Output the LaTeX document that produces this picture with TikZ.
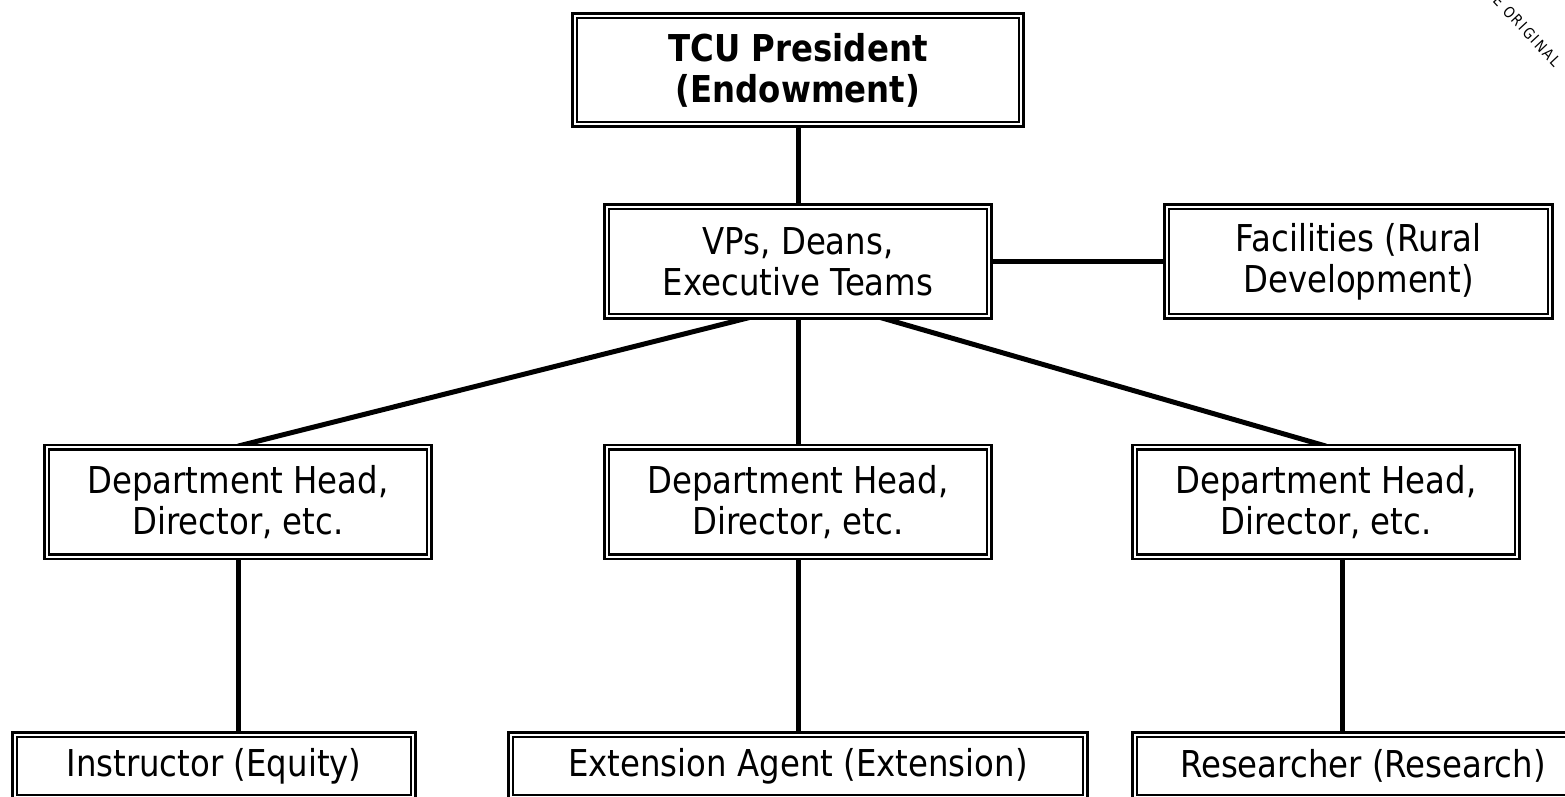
\documentclass[tikz,border=0pt]{standalone}
\usepackage{fontspec}
\setmainfont{DejaVu Sans}[FakeStretch=0.875]
\usetikzlibrary{backgrounds}
\begin{document}
\begin{tikzpicture}[x=0.5pt, y=-0.5pt,
  box/.style={draw=black, line width=1.3pt, double=white, double distance=1pt,
    fill=white, inner sep=0pt, align=center,
    font=\fontsize{18.5}{20.5}\selectfont},
  tall/.style={box, minimum width=191.4pt, minimum height=54.6pt},
  low/.style={box, minimum height=31.4pt},
  link/.style={line width=2.5pt},
  stamptext/.style={font=\fontsize{7.5}{8}\selectfont\addfontfeature{LetterSpace=12}, inner sep=0pt}]
\useasboundingbox (0,0) rectangle (1565,797);
\clip (0,0) rectangle (1565,797);

% top of the chart
\node[box, minimum width=223.4pt, minimum height=54.4pt] (pres) at (798,70)
  {\bfseries TCU President\\\bfseries (Endowment)};
\node[tall] (vps) at (798,261.5) {VPs, Deans,\\Executive Teams};
\node[tall, minimum width=191.9pt] (fac) at (1358.5,261.5) {Facilities (Rural\\Development)};

% department level
\node[tall] (d1) at (238,502) {Department Head,\\Director, etc.};
\node[tall] (d2) at (798,502) {Department Head,\\Director, etc.};
\node[tall] (d3) at (1326,502) {Department Head,\\Director, etc.};

% staff level
\node[low, minimum width=199.4pt] (instr) at (214,766) {Instructor (Equity)};
\node[low, minimum width=287.4pt] (ext) at (798,766) {Extension Agent (Extension)};
\node[low, minimum width=228.4pt] (res) at (1363,766) {Researcher (Research)};

% stamp in the corner
\node[stamptext, rotate=-47] (stamp) at (1527,31) {E ORIGINAL};

\begin{pgfonlayer}{background}
  \draw[link] (pres.south) -- (vps.north);
  \draw[link] (vps.east) -- (fac.west);
  \draw[link] ([xshift=-24pt]vps.south) -- (d1.north);
  \draw[link] (vps.south) -- (d2.north);
  \draw[link] ([xshift=41pt]vps.south) -- (d3.north);
  \draw[link] (d1.south) -- (d1.south |- instr.north);
  \draw[link] (d2.south) -- (ext.north);
  \draw[link] ([xshift=8pt]d3.south) -- ([xshift=8pt]d3.south |- res.north);
\end{pgfonlayer}
\end{tikzpicture}
\end{document}
